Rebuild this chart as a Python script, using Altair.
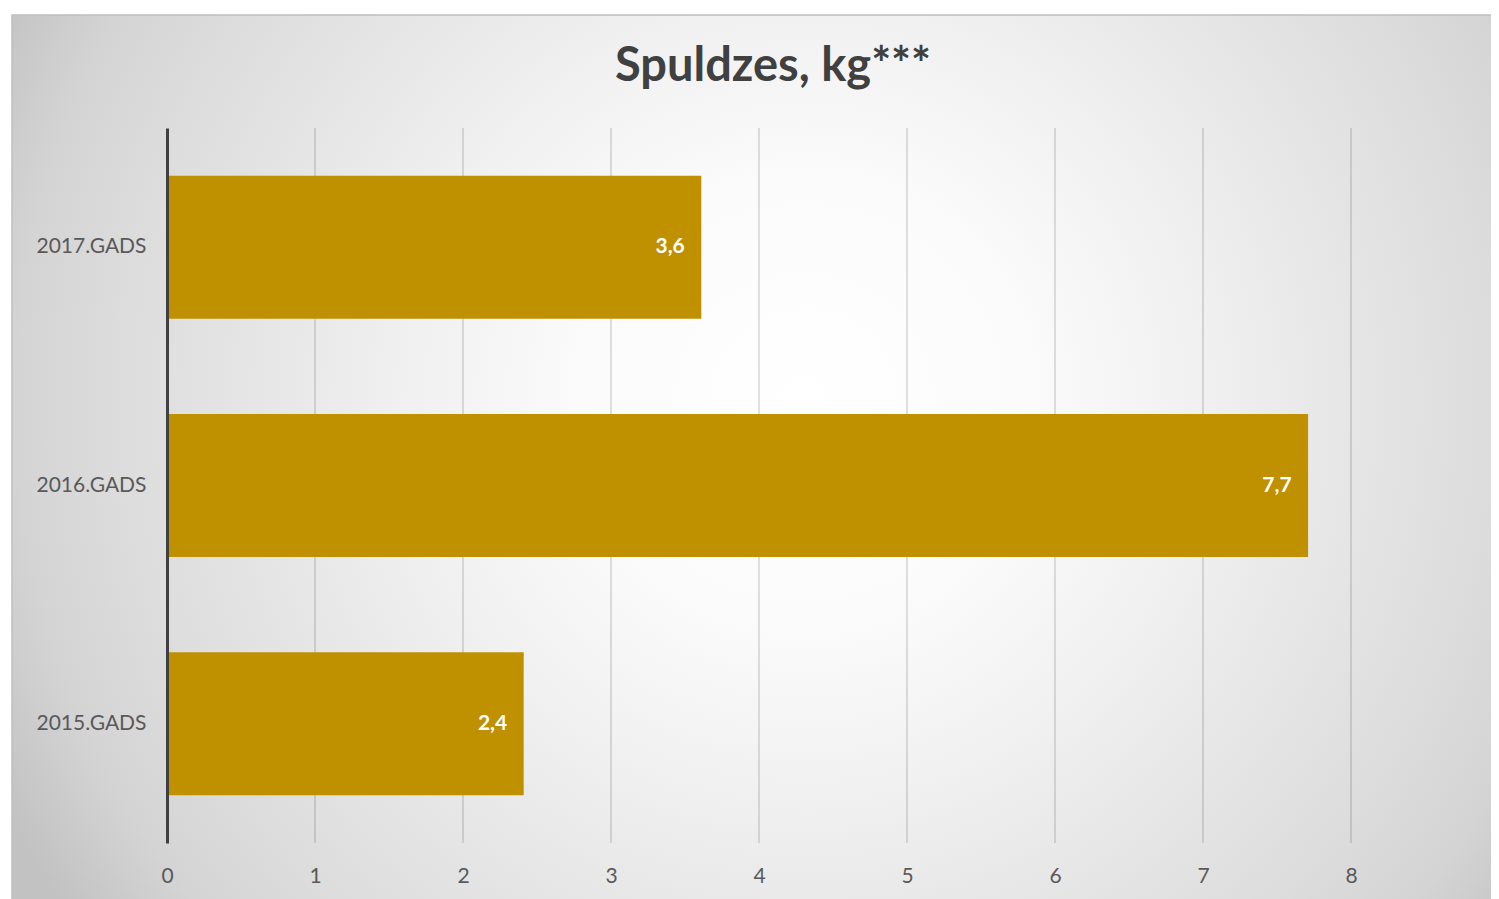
import altair as alt
import pandas as pd

categories = ["2017.GADS", "2016.GADS", "2015.GADS"]
values = [3.6, 7.7, 2.4]
grid_values = [1, 2, 3, 4, 5, 6, 7, 8]
tick_values = [0, 1, 2, 3, 4, 5, 6, 7, 8, 9]

df = pd.DataFrame({
    "year": categories,
    "value": values,
    "label": [f"{v:.1f}".replace(".", ",") for v in values],
})
grid_df = pd.DataFrame({"g": grid_values})

FONT = "Lato"
x_scale = alt.Scale(domain=[0, 8.946], nice=False, zero=True)

bg = alt.Chart(alt.Data(values=[{"a": 1}])).mark_rect(
    clip=False,
    stroke="#bfbfbf",
    strokeWidth=1.5,
    fill={
        "gradient": "radial",
        "x1": 0.53, "y1": 0.46, "r1": 0,
        "x2": 0.53, "y2": 0.46, "r2": 0.6,
        "stops": [
            {"offset": 0.0, "color": "#ffffff"},
            {"offset": 0.25, "color": "#fbfbfb"},
            {"offset": 0.45, "color": "#f0f0f0"},
            {"offset": 0.77, "color": "#dcdcdc"},
            {"offset": 0.88, "color": "#d4d4d4"},
            {"offset": 1.0, "color": "#c2c2c2"},
        ],
    },
).encode(
    x=alt.value(-155), x2=alt.value(1340),
    y=alt.value(-113), y2=alt.value(780),
)

grid = alt.Chart(grid_df).mark_rule(
    color="#000000", opacity=0.24, strokeWidth=1
).encode(
    x=alt.X("g:Q", scale=x_scale)
)

bars = alt.Chart(df).mark_bar(color="#BF9000", xOffset=1.5).encode(
    x=alt.X(
        "value:Q", scale=x_scale, title=None,
        axis=alt.Axis(
            values=tick_values, format="d", grid=False, ticks=False,
            domain=False, labelFont=FONT, labelFontSize=21,
            labelColor="#595959", labelPadding=22, zindex=1,
            labelFlush=False, labelOverlap=False,
        ),
    ),
    y=alt.Y(
        "year:N", sort=categories, title=None,
        scale=alt.Scale(paddingInner=0.4, paddingOuter=0.2),
        axis=alt.Axis(
            grid=False, ticks=False, domain=True, domainColor="#404040",
            domainWidth=3, labelFont=FONT, labelFontSize=21,
            labelColor="#595959", labelPadding=21, zindex=1,
        ),
    ),
)

text = alt.Chart(df).mark_text(
    align="right", baseline="middle", dx=-15, color="white",
    font=FONT, fontSize=21, fontWeight="bold",
).encode(
    x=alt.X("value:Q", scale=x_scale),
    y=alt.Y("year:N", sort=categories),
    text="label:N",
)

chart = alt.layer(bg, grid, bars, text).properties(
    width=1324,
    height=715,
    title=alt.TitleParams(
        "Spuldzes, kg***", font=FONT, fontSize=47, fontWeight="bold",
        color="#404040", anchor="middle", dx=-56, offset=0, dy=114,
        baseline="alphabetic",
    ),
    autosize=alt.AutoSizeParams(type="none"),
    padding={"left": 159, "top": 120, "right": 0, "bottom": 56},
).configure_view(stroke=None).configure(background="white")

chart.save("out.html", embed_options={"renderer": "svg", "actions": False})
